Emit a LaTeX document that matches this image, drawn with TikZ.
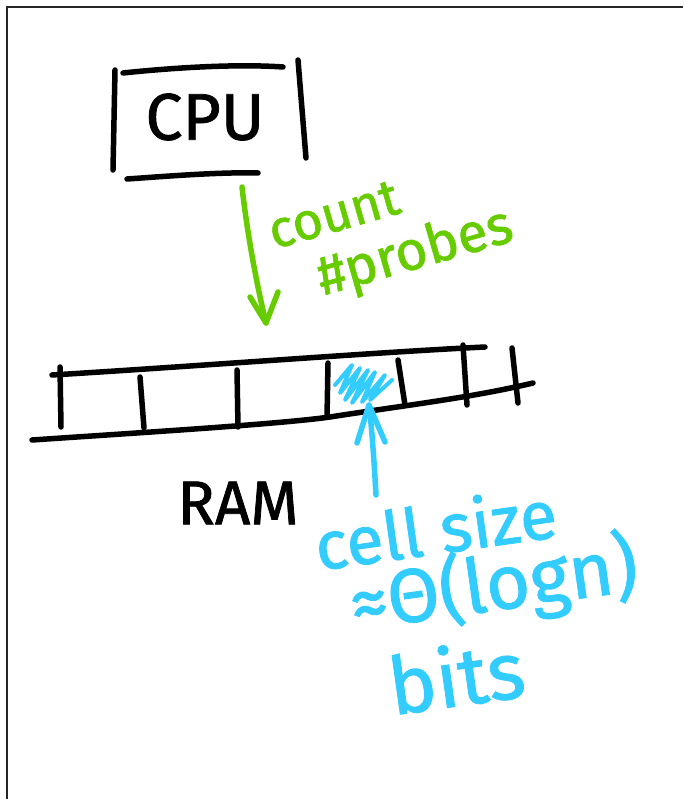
\documentclass[tikz,border=0pt]{standalone}
\usepackage{fontspec}
\setmainfont{Fira Sans}[FakeBold=1.2]
\definecolor{inkgreen}{RGB}{102,204,0}
\definecolor{inkblue}{RGB}{51,204,255}
\tikzset{
  pen/.style={line width=5.5pt, line cap=round, line join=round},
  blackpen/.style={pen, black},
  greenpen/.style={pen, inkgreen},
  bluepen/.style={pen, inkblue},
  label/.style={inner sep=0pt, anchor=center},
}
\begin{document}
\begin{tikzpicture}[x=1pt,y=-1pt]
\useasboundingbox (0,0) rectangle (683,799);
% page frame (top and left edges)
\draw[line width=2pt, black!85] (7,799) -- (7,7) -- (683,7);

% CPU box, four loose strokes
\draw[blackpen] (115,70) -- (113,170);
\draw[blackpen] (123,73) .. controls (180,67) and (240,64) .. (283,67);
\draw[blackpen] (298,60) -- (306,158);
\draw[blackpen] (127,179) .. controls (170,176) and (220,172) .. (258,173);
\node[label, font=\fontsize{66}{66}\selectfont] (cpu) at (205,117) {CPU};

% green arrow from CPU down to RAM
\coordinate (gtail) at (242,187);
\coordinate (gtip) at (266,323);
\draw[greenpen] (gtail) .. controls (248,240) and (258,290) .. (gtip);
\draw[greenpen] (250,297) -- (gtip) -- (278,292);
\node[label, inkgreen, rotate=16, align=left, font=\fontsize{52}{58}\selectfont]
  (probes) at (392,234) {count\\\hspace{34pt}{\fontsize{55}{58}\selectfont\#probes}};

% RAM strip
\draw[blackpen] (52,375) .. controls (200,366) and (380,352) .. (485,347);
\draw[blackpen] (32,440) .. controls (150,432) and (280,424) .. (330,417)
  .. controls (400,406) and (470,398) .. (533,383);
\draw[blackpen] (60,367) -- (61,427);
\draw[blackpen] (140,377) -- (144,428);
\draw[blackpen] (237,370) -- (238,427);
\draw[blackpen] (328,363) -- (327,417);
\draw[blackpen] (398,360) -- (405,405);
\draw[blackpen] (463,345) -- (467,405);
\draw[blackpen] (512,348) -- (518,403);
\node[label, font=\fontsize{62}{62}\selectfont] (ram) at (238,503) {RAM};

% shaded cell
\draw[bluepen, line width=4pt] (335,385) -- (352,365) -- (340,393) -- (360,368)
  -- (345,400) -- (368,370) -- (352,403) -- (375,372) -- (362,402)
  -- (385,375) -- (370,400) -- (392,380);

% blue arrow up to the cell
\coordinate (btail) at (376,495);
\coordinate (btip) at (369,405);
\draw[bluepen] (btail) .. controls (374,460) and (372,430) .. (btip);
\draw[bluepen] (357,443) -- (btip) -- (385,442);

\node[label, inkblue, rotate=8, align=center, font=\fontsize{68}{68}\selectfont]
  (cellsize) at (446,604)
  {cell size\\[-4pt]
   \hspace{100pt}{\fontsize{76}{68}\selectfont ≈Θ(logn)}\\[10pt]
   {\fontsize{80}{68}\selectfont bits}};
\end{tikzpicture}
\end{document}
